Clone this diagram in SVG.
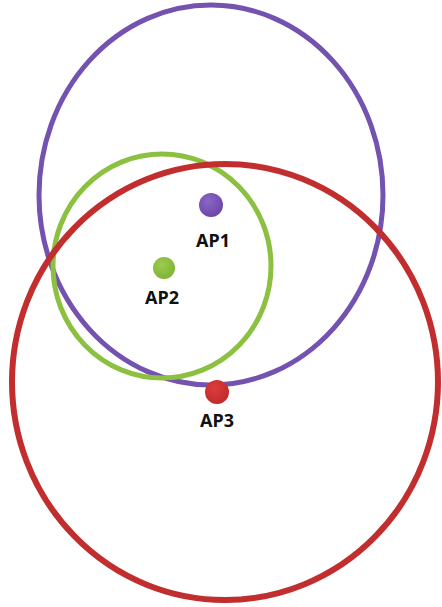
<svg xmlns="http://www.w3.org/2000/svg" width="442" height="607" viewBox="0 0 442 607">
  <style>
    .ring { fill: none; }
    .label { font-family: "Noto Sans", "Liberation Sans", sans-serif; font-weight: bold; font-size: 18px; fill: #111; text-anchor: middle; }
  </style>
  <defs>
    <radialGradient id="gPurple" cx="0.4" cy="0.35" r="0.7">
      <stop offset="0" stop-color="#8a66c4"/>
      <stop offset="1" stop-color="#6a45a8"/>
    </radialGradient>
    <radialGradient id="gGreen" cx="0.4" cy="0.35" r="0.7">
      <stop offset="0" stop-color="#9ccb4e"/>
      <stop offset="1" stop-color="#7fb035"/>
    </radialGradient>
    <radialGradient id="gRed" cx="0.4" cy="0.35" r="0.7">
      <stop offset="0" stop-color="#dd3b3b"/>
      <stop offset="1" stop-color="#c02a2a"/>
    </radialGradient>
  </defs>
  <rect width="442" height="607" fill="#fff"/>

  <!-- coverage ranges -->
  <g id="range-ap1">
    <ellipse class="ring" cx="211" cy="195" rx="172" ry="190" stroke="#7452b0" stroke-width="5"/>
  </g>
  <g id="range-ap2">
    <ellipse class="ring" cx="162" cy="266" rx="109" ry="112" stroke="#8cc040" stroke-width="5"/>
  </g>
  <g id="range-ap3">
    <ellipse class="ring" cx="225" cy="382" rx="213" ry="218" stroke="#c22d2e" stroke-width="6"/>
  </g>

  <!-- access points -->
  <g id="ap1">
    <circle cx="211" cy="205" r="12" fill="url(#gPurple)"/>
    <text class="label" x="213" y="247">AP1</text>
  </g>
  <g id="ap2">
    <circle cx="164" cy="268" r="11" fill="url(#gGreen)"/>
    <text class="label" x="162" y="304">AP2</text>
  </g>
  <g id="ap3">
    <circle cx="217" cy="392" r="12" fill="url(#gRed)"/>
    <text class="label" x="217" y="427">AP3</text>
  </g>
</svg>
